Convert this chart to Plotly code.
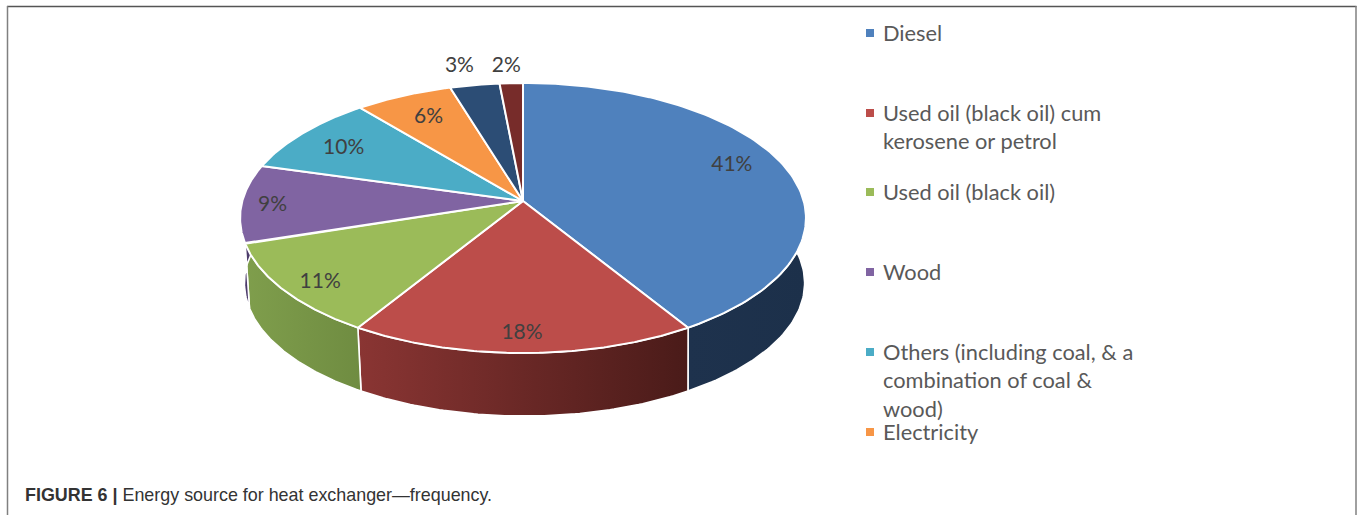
import numpy as np
import plotly.graph_objects as go

# ---------- data ----------
sources = ["Diesel", "Used oil (black oil) cum<br>kerosene or petrol", "Used oil (black oil)", "Wood",
           "Others (including coal, & a<br>combination of coal &<br>wood)", "Electricity",
           "Other source A", "Other source B"]
shares = [41.2, 17.6, 11.2, 9.4, 9.6, 6.3, 3.2, 1.5]
colors = ["#4F81BD", "#BC4D4A", "#9BBB59", "#8064A2", "#4BACC6", "#F79646", "#2C4D75", "#772C2A"]
side_left = ["#1E324D", "#8A3533", "#7F9E4C", "#4C3B6B", "#2C6677", "#94592A", "#1A2E46", "#471A19"]
side_right = ["#1C304A", "#4A1B19", "#6F8C41", "#4C3B6B", "#2C6677", "#94592A", "#1A2E46", "#471A19"]
label_radius = [0.80, 0.855, 0.86, 0.89, 0.82, 0.79, 1.17, 1.16]
label_dx = [0, -1, 3, 0, 1, 0, -7, -3]
label_dy = [-7, 3, 5, 3, 3, 0, 2, 3]
legend_rows = [33, 113, 192, 272, 352, 432]
caption_bold = "FIGURE 6 |"
caption_text = "Energy source for heat exchanger—frequency."

# ---------- perspective disc projection ----------
CX, CY, A, B, K = 523.0, 201.0, 280.7, 132.9, 0.126
BOTTOM_CX, BOTTOM_CY, BOTTOM_SX, BOTTOM_SY = 524.5, 266.3, 0.99, 0.985


def project(theta_deg, r=1.0, cx=CX, cy=CY, sx=1.0, sy=1.0):
    t = np.radians(theta_deg)
    w = 1 + K * np.cos(t)
    return cx + sx * r * A * np.sin(t) / w, cy - sy * r * B * np.cos(t) / w


edges = np.concatenate([[0], np.cumsum(shares)]) / sum(shares) * 360
VIS_LO, VIS_HI = 60.0, 290.0

fig = go.Figure()

# side walls
for i in range(len(shares)):
    lo, hi = max(edges[i], VIS_LO), min(edges[i + 1], VIS_HI)
    if hi <= lo:
        continue
    th = np.linspace(lo, hi, 80)
    xt, yt = project(th)
    xb, yb = project(th[::-1], cx=BOTTOM_CX, cy=BOTTOM_CY, sx=BOTTOM_SX, sy=BOTTOM_SY)
    fig.add_trace(go.Scatter(
        x=np.concatenate([xt, xb, xt[:1]]), y=np.concatenate([yt, yb, yt[:1]]),
        mode="lines", fill="toself", line=dict(color="white", width=1.6),
        fillgradient=dict(type="horizontal",
                          colorscale=[[0, side_left[i]], [1, side_right[i]]]),
        hoverinfo="skip", showlegend=False))

# top faces
for i in range(len(shares)):
    th = np.linspace(edges[i], edges[i + 1], 120)
    xt, yt = project(th)
    fig.add_trace(go.Scatter(
        x=np.concatenate([[CX], xt, [CX]]), y=np.concatenate([[CY], yt, [CY]]),
        mode="lines", fill="toself", fillcolor=colors[i],
        line=dict(color="white", width=2), name=sources[i], showlegend=False, hoverinfo="name"))

# percentage labels
mid = (edges[:-1] + edges[1:]) / 2
lx, ly = project(mid, r=np.array(label_radius))
fig.add_trace(go.Scatter(
    x=lx + np.array(label_dx), y=ly + np.array(label_dy), mode="text",
    text=[f"{round(v + 1e-9)}%" for v in shares],
    textfont=dict(family="Lato", size=21, color="#404040"), hoverinfo="skip", showlegend=False))

# legend rows
fig.add_trace(go.Scatter(
    x=[870] * len(legend_rows), y=legend_rows, mode="markers",
    marker=dict(symbol="square", size=8, color=colors[:len(legend_rows)]),
    hoverinfo="skip", showlegend=False))
for name, row in zip(sources, legend_rows):
    fig.add_annotation(x=881.5, y=row - 15.5, xref="x", yref="y", text=name, showarrow=False,
                       xanchor="left", yanchor="top", align="left", borderpad=0,
                       font=dict(family="Lato", size=21.8, color="#595959"))

# caption
fig.add_annotation(x=23, y=495, xref="x", yref="y", showarrow=False, xanchor="left", yanchor="middle",
                   text=f"<b>{caption_bold}</b> {caption_text}",
                   font=dict(family="Liberation Sans", size=17.9, color="#333333"))

# frame
fig.add_shape(type="line", x0=7, x1=1356.5, y0=6.5, y1=6.5, line=dict(color="#555555", width=1.5))
fig.add_shape(type="line", x0=7.5, x1=7.5, y0=6, y1=515, line=dict(color="#808080", width=1.5))
fig.add_shape(type="line", x0=1356, x1=1356, y0=6, y1=515, line=dict(color="#808080", width=1.5))

fig.update_layout(
    width=1357, height=515, margin=dict(l=0, r=0, t=0, b=0),
    paper_bgcolor="white", plot_bgcolor="white", showlegend=False,
    xaxis=dict(range=[0, 1357], visible=False, fixedrange=True),
    yaxis=dict(range=[515, 0], visible=False, fixedrange=True))

fig.write_html("out.html", config={"displayModeBar": False},
               post_script="document.body.style.margin='0';document.body.style.overflow='hidden';")
